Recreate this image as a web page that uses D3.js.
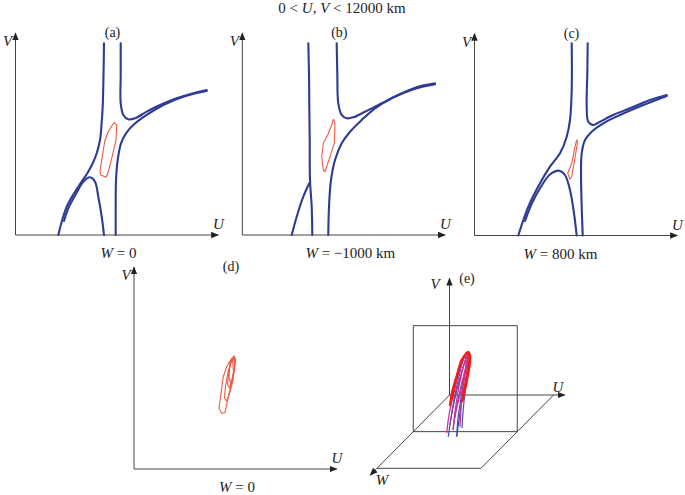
<!DOCTYPE html>
<html><head><meta charset="utf-8">
<script src="https://cdn.jsdelivr.net/npm/d3@7"></script>
<style>body{margin:0;background:#fff}svg{display:block}</style>
</head><body>
<svg id="chart" width="685" height="495"></svg>
<script>
// ---------- DATA (km) ----------
const title = "0 < U, V < 12000 km";
const panelLetters = ["(a)", "(b)", "(c)", "(d)", "(e)"];
const wValues = ["0", "\u22121000 km", "800 km", "0"];

// Panel (a), W = 0
const a_left  = [[5446,11797],[5416,9846],[5366,7896],[5292,6769],[5200,5846],[4997,5028],[4751,4412],[4419,3797],[3865,2972],[3151,1742],[2634,0]];
const a_hump  = [[2985,862],[3231,1600],[3785,2646],[4154,3262],[4585,3551],[4892,3280],[5096,2357],[5305,1126],[5446,0]];
const a_upper = [[6474,11797],[6474,9846],[6474,8105],[6634,7385],[6942,7120],[7354,7182],[8074,7588],[8893,8000],[9920,8413],[10942,8720],[11766,8923]];
const a_lower = [[6166,0],[6166,1742],[6185,3385],[6289,4615],[6492,5643],[6800,6259],[7249,6769],[8074,7385],[9096,8000],[10327,8511],[11766,8860]];
const a_loop  = [[6080,6911],[6228,6769],[6185,5846],[5920,4720],[5711,3895],[5569,3551],[5243,3692],[5200,3895],[5305,4615],[5508,5846],[5711,6357],[5920,6708]];

// Panel (b), W = -1000 km
const b_left  = [[4062,11797],[4105,9846],[4123,7896],[4148,5846],[4166,3385],[4271,1742],[4308,0]];
const b_arm   = [[3040,0],[3348,1126],[3754,2357],[4123,3182]];
const b_upper = [[5809,11797],[5846,9951],[5908,8105],[6117,7385],[6425,7182],[6831,7243],[7551,7588],[8579,8105],[9810,8720],[10831,9126],[11859,9336]];
const b_lower = [[5292,0],[5336,1742],[5459,3385],[5705,4615],[6117,5643],[6628,6357],[7348,7077],[8166,7797],[9194,8413],[10628,9000],[11859,9280]];
const b_loop  = [[5600,7120],[5705,6874],[5662,5643],[5397,4819],[5194,4203],[5089,3895],[4985,4000],[4886,4819],[4985,5643],[5256,6154],[5502,6769]];

// Panel (c), W = 800 km
const c_left  = [[5982,11828],[5982,8954],[5877,7108],[5674,6080],[5262,5059],[4646,4234],[4031,3212],[3311,1772],[2695,0]];
const c_hump  = [[3108,892],[3539,2000],[4092,3003],[4646,3754],[5219,3988],[5569,3723],[5877,2800],[6123,1366],[6289,0]];
const c_upper = [[6966,11828],[6942,9982],[6905,7926],[7003,7003],[7311,6800],[7723,7003],[8542,7416],[9570,7828],[10800,8339],[11828,8646]];
const c_lower = [[6659,0],[6597,1772],[6554,3828],[6597,5059],[6800,5877],[7212,6388],[7926,6905],[8954,7416],[10388,8031],[11828,8590]];
const c_loop  = [[6289,5877],[6351,5772],[5982,3619],[5877,3459],[5735,3828],[5982,4443],[6185,5465]];

// Panel (d), W = 0 : nested loops
const d_loop1 = [[6172,6954],[6259,6708],[6111,5680],[5803,4449],[5600,3465],[5397,3428],[5231,3735],[5354,4659],[5495,5680],[5705,6296],[5969,6751]];
const d_loop2 = [[6154,6892],[6216,6523],[6092,5477],[5877,4615],[5692,4185],[5569,4369],[5631,5108],[5785,5969],[5969,6585]];
const d_loop3 = [[6123,6831],[6185,6339],[6031,5415],[5877,4985],[5754,5231],[5846,6092],[6000,6646]];
const d_loop4 = [[5908,6585],[6062,6769],[6123,5969],[5969,5231],[5846,5662]];

// Panel (e), 3D trajectories [U, V, W]
const e_red1 = [[4240,2903,0],[4471,4375,0],[5013,6220,0],[5590,8111,0],[6086,8790,0],[6352,9017,0],[6548,8564,0],[6548,7884,0],[6202,5847,0],[5775,3922,0],[5625,3356,0]];
const e_red2 = [[4471,3500,0],[4817,5100,0],[5279,7200,0],[5856,8500,0],[6317,8900,0],[6433,8337,0],[6202,6752,0],[5971,5281,0],[5740,4149,0]];
const e_red3 = [[4356,3800,0],[4700,5300,0],[5200,6900,0],[5750,8300,0],[6200,8950,0],[6480,8700,0],[6400,7500,0],[6050,5600,0],[5700,4000,0]];
const e_mag1 = [[4113,100,91],[4125,1884,0],[4586,4149,0],[5163,6412,0],[5740,8111,0],[6202,8790,0],[6317,8337,0],[5856,6412,0],[5394,4149,0],[4817,1884,0],[4586,187,0]];
const e_blu1 = [[4721,100,243],[4356,1545,0],[4817,3809,0],[5394,6073,0],[5971,7884,0],[6317,8677,0],[6433,8111,0],[6086,5847,0],[5625,3583,0],[5279,1319,0],[5691,100,243]];
const e_mag2 = [[4621,187,0],[4817,2224,0],[5163,4488,0],[5625,6752,0],[6086,8337,0],[6260,8564,0],[6086,7205,0],[5740,4941,0],[5510,2677,0],[5394,560,0]];
const e_blu2 = [[5691,100,243],[5163,1545,0],[5510,3809,0],[5856,6073,0],[6202,7884,0],[6375,8450,0],[6202,6752,0],[5971,4488,0],[5740,2224,0],[5625,413,0]];
const e_pur1 = [[4240,753,0],[4586,3016,0],[5048,5281,0],[5510,7205,0],[5971,8564,0],[6086,7545,0],[5625,5620,0],[5163,3583,0],[4817,1545,0]];

// ---------- DRAWING ----------
const svg = d3.select("#chart");
const FONT = "'Liberation Serif','Times New Roman',serif";
const BLUE = "#2e3c93", RED = "#ec5a48", AX = "#444";

const defs = svg.append("defs");
defs.append("marker").attr("id","arr").attr("viewBox","0 0 10 10")
  .attr("refX",9).attr("refY",5).attr("markerWidth",8).attr("markerHeight",8)
  .attr("markerUnits","userSpaceOnUse").attr("orient","auto")
  .append("path").attr("d","M0,1 L10,5 L0,9 Z").attr("fill","#222");

function txt(x, y, parts, size, anchor) {
  const t = svg.append("text").attr("x", x).attr("y", y)
    .attr("font-family", FONT).attr("font-size", size || 15)
    .attr("text-anchor", anchor || "middle").attr("fill", "#222");
  parts.forEach(p => {
    const s = t.append("tspan").text(p[0]);
    if (p[1]) s.attr("font-style", "italic");
  });
  return t;
}

// title
txt(342, 13, [["0 < "],["U",1],[", "],["V",1],[" < 12000 km"]], 15);

// 2D panels
const panels = [
  {ox:15.5, oy:235, letter:0, w:0, curves:[a_left,a_hump,a_upper,a_lower], loops:[a_loop]},
  {ox:242.3, oy:235, letter:1, w:1, curves:[b_left,b_arm,b_upper,b_lower], loops:[b_loop]},
  {ox:474.5, oy:235.5, letter:2, w:2, curves:[c_left,c_hump,c_upper,c_lower], loops:[c_loop]},
  {ox:134, oy:469, letter:3, w:3, curves:[], loops:[d_loop1,d_loop2,d_loop3,d_loop4]}
];

panels.forEach(p => {
  const x = d3.scaleLinear().domain([0, 12000]).range([p.ox, p.ox + 195]);
  const y = d3.scaleLinear().domain([0, 12000]).range([p.oy, p.oy - 195]);
  const g = svg.append("g");
  g.append("line").attr("x1", x(0)).attr("y1", y(0)).attr("x2", x(12480)).attr("y2", y(0))
    .attr("stroke", AX).attr("stroke-width", 1).attr("marker-end", "url(#arr)");
  g.append("line").attr("x1", x(0)).attr("y1", y(0)).attr("x2", x(0)).attr("y2", y(12430))
    .attr("stroke", AX).attr("stroke-width", 1).attr("marker-end", "url(#arr)");
  const line = d3.line().x(d => x(d[0])).y(d => y(d[1])).curve(d3.curveCatmullRom.alpha(0.5));
  p.curves.forEach(c => {
    g.append("path").attr("d", line(c)).attr("fill", "none")
      .attr("stroke", BLUE).attr("stroke-width", 2.1).attr("stroke-linecap", "round");
  });
  const loopLine = d3.line().x(d => x(d[0])).y(d => y(d[1])).curve(d3.curveLinearClosed);
  p.loops.forEach(c => {
    g.append("path").attr("d", loopLine(c)).attr("fill", "none")
      .attr("stroke", RED).attr("stroke-width", 1.1).attr("stroke-linejoin", "round");
  });
  txt(x(0) - 8, y(0) - 189, [["V",1]], 15);
  txt(x(0) + 203, y(0) - 6, [["U",1]], 15);
  txt(x(0) + 97, y(0) - 198, [[panelLetters[p.letter]]], 14);
  txt(x(0) + (p.letter === 1 ? 108 : (p.letter === 2 ? 86 : 103)), y(0) + 23, [["W",1],[" = " + wValues[p.w]]], 15);
});

// Panel (e) - 3D schematic
(function(){
  const ox = 449.5, oy = 395;
  const su = d3.scaleLinear().domain([0, 12000]).range([0, 104]);
  const sv = d3.scaleLinear().domain([0, 12000]).range([0, 106]);
  const sw = d3.scaleLinear().domain([-1500, 1500]).range([0, 1]);
  const P = d => [ox + su(d[0]) - 72.5 * sw(d[2]), oy - sv(d[1]) + 73.3 * sw(d[2])];
  const g = svg.append("g");
  const seg = (a, b, arrow) => {
    const p1 = P(a), p2 = P(b);
    const l = g.append("line").attr("x1", p1[0]).attr("y1", p1[1]).attr("x2", p2[0]).attr("y2", p2[1])
      .attr("stroke", AX).attr("stroke-width", 1);
    if (arrow) l.attr("marker-end", "url(#arr)");
  };
  seg([0,0,0],[12000,0,0]); seg([12000,0,0],[12000,12000,0]);
  seg([12000,12000,0],[0,12000,0]); seg([0,12000,0],[0,0,0]);
  seg([12000,0,-1500],[12000,0,1500]); seg([12000,0,1500],[0,0,1500]);
  seg([0,0,-1500],[13300,0,-1500], true);
  seg([0,0,-1500],[0,13200,-1500], true);
  seg([0,0,-1500],[0,0,1780], true);
  const line = d3.line().x(d => P(d)[0]).y(d => P(d)[1]).curve(d3.curveCatmullRom.alpha(0.5));
  const strands = [
    [e_blu1, "#3a4db0", 1.2], [e_blu2, "#3d52b8", 1.2], [e_pur1, "#8a3ca8", 1.2],
    [e_mag1, "#d0359a", 1.3], [e_mag2, "#c8308f", 1.3],
    [e_red3, "#ee2a2a", 1.6], [e_red2, "#ee2424", 1.8], [e_red1, "#ee1c1c", 2.4]
  ];
  strands.forEach(s => {
    g.append("path").attr("d", line(s[0])).attr("fill", "none")
      .attr("stroke", s[1]).attr("stroke-width", s[2]).attr("stroke-linejoin", "round");
  });
  txt(435, 289, [["V",1]], 15);
  txt(467, 283, [[panelLetters[4]]], 14);
  txt(558, 392, [["U",1]], 15);
  txt(382, 485, [["W",1]], 15);
})();
</script>
</body></html>
